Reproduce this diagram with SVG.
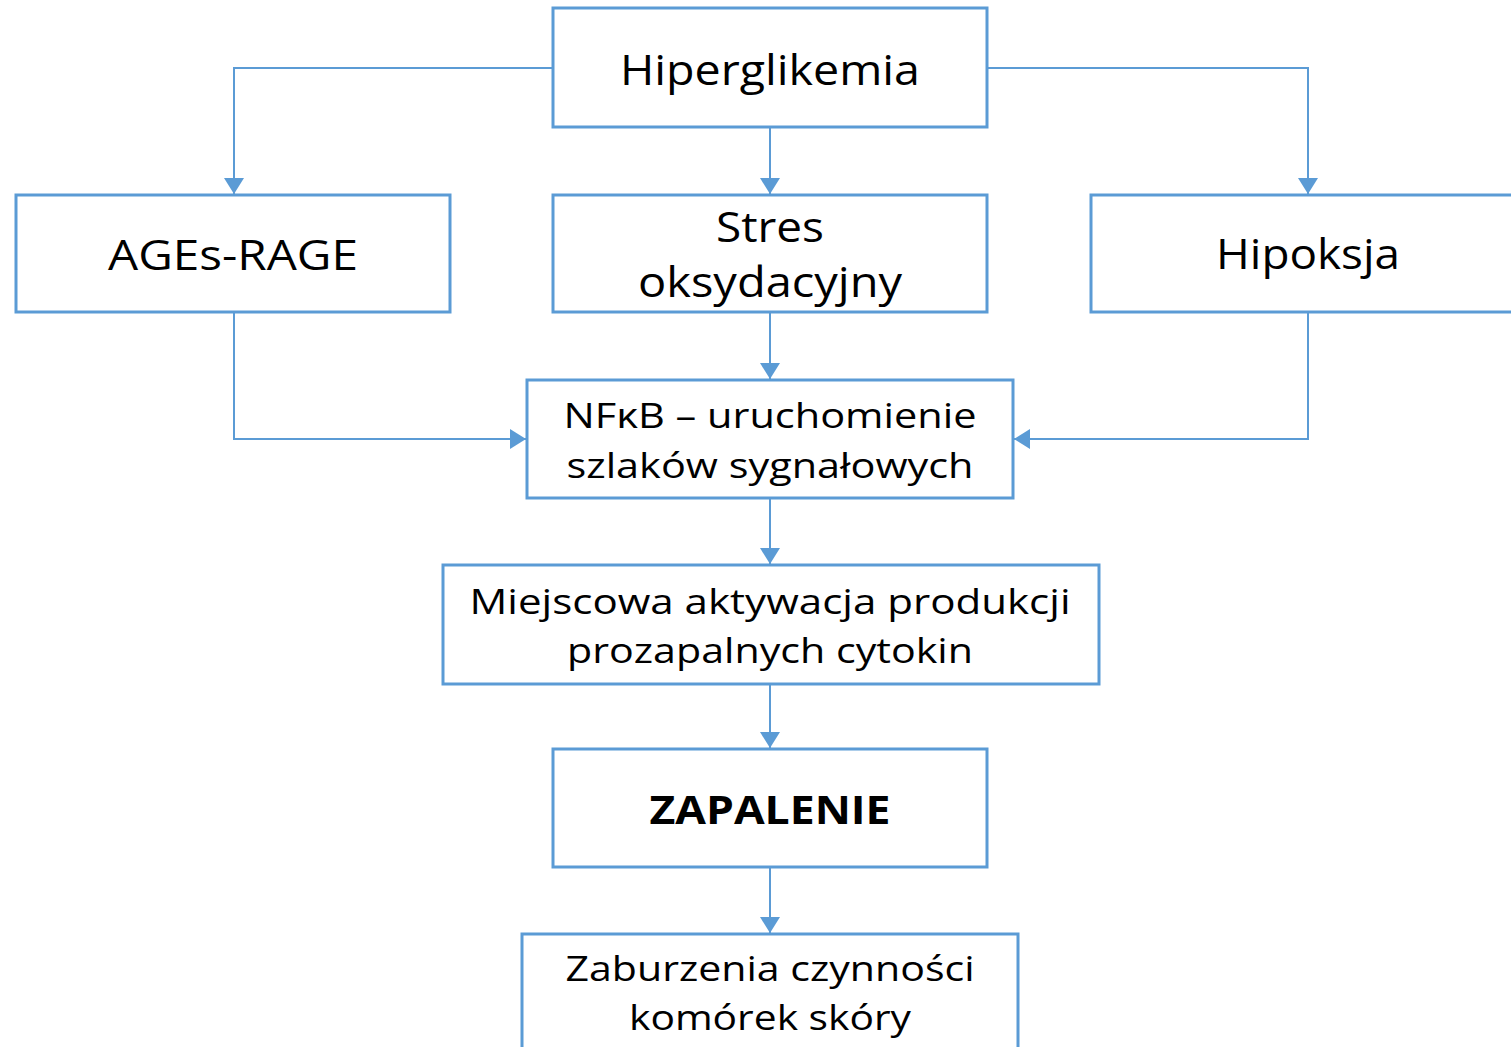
<svg xmlns="http://www.w3.org/2000/svg" width="1511" height="1047" viewBox="0 0 1511 1047">
<style>
.box{fill:#fff;stroke:#5B9BD5;stroke-width:3}
.c{fill:none;stroke:#5B9BD5;stroke-width:2}
text{font-family:"Open Sans","Noto Sans",sans-serif;fill:#000;text-anchor:middle}
.L{font-size:42px}
.S{font-size:35px}
.B{font-size:40px;font-weight:bold}
</style>
<defs>
<marker id="ah" markerWidth="18" markerHeight="20" refX="16" refY="10" orient="auto" markerUnits="userSpaceOnUse">
<path d="M0,0 L16,10 L0,20 Z" fill="#5B9BD5"/>
</marker>
</defs>
<rect width="1511" height="1047" fill="#fff"/>
<g id="connectors">
<path class="c" d="M553,68 H234 V194" marker-end="url(#ah)"/>
<path class="c" d="M770,127 V194" marker-end="url(#ah)"/>
<path class="c" d="M987,68 H1308 V194" marker-end="url(#ah)"/>
<path class="c" d="M234,312 V439 H526" marker-end="url(#ah)"/>
<path class="c" d="M770,312 V379" marker-end="url(#ah)"/>
<path class="c" d="M1308,312 V439 H1014" marker-end="url(#ah)"/>
<path class="c" d="M770,498 V564" marker-end="url(#ah)"/>
<path class="c" d="M770,684 V748" marker-end="url(#ah)"/>
<path class="c" d="M770,867 V933" marker-end="url(#ah)"/>
</g>
<g id="hiperglikemia">
<rect class="box" x="553" y="8" width="434" height="119"/>
<text class="L" x="770" y="85" textLength="300" lengthAdjust="spacingAndGlyphs">Hiperglikemia</text>
</g>
<g id="ages-rage">
<rect class="box" x="16" y="195" width="434" height="117"/>
<text class="L" x="233" y="270" textLength="250" lengthAdjust="spacingAndGlyphs">AGEs-RAGE</text>
</g>
<g id="stres">
<rect class="box" x="553" y="195" width="434" height="117"/>
<text class="L" x="770" y="242" textLength="108" lengthAdjust="spacingAndGlyphs">Stres</text>
<text class="L" x="770" y="297" textLength="264" lengthAdjust="spacingAndGlyphs">oksydacyjny</text>
</g>
<g id="hipoksja">
<rect class="box" x="1091" y="195" width="440" height="117"/>
<text class="L" x="1308" y="269" textLength="184" lengthAdjust="spacingAndGlyphs">Hipoksja</text>
</g>
<g id="nfkb">
<rect class="box" x="527" y="380" width="486" height="118"/>
<text class="S" x="770" y="428" textLength="413" lengthAdjust="spacingAndGlyphs">NFκB – uruchomienie</text>
<text class="S" x="770" y="478" textLength="407" lengthAdjust="spacingAndGlyphs">szlaków sygnałowych</text>
</g>
<g id="miejscowa">
<rect class="box" x="443" y="565" width="656" height="119"/>
<text class="S" x="770" y="614" textLength="601" lengthAdjust="spacingAndGlyphs">Miejscowa aktywacja produkcji</text>
<text class="S" x="770" y="663" textLength="406" lengthAdjust="spacingAndGlyphs">prozapalnych cytokin</text>
</g>
<g id="zapalenie">
<rect class="box" x="553" y="749" width="434" height="118"/>
<text class="B" x="770" y="824" textLength="241" lengthAdjust="spacingAndGlyphs">ZAPALENIE</text>
</g>
<g id="zaburzenia">
<rect class="box" x="522" y="934" width="496" height="130"/>
<text class="S" x="770" y="981" textLength="409" lengthAdjust="spacingAndGlyphs">Zaburzenia czynności</text>
<text class="S" x="770" y="1030" textLength="282" lengthAdjust="spacingAndGlyphs">komórek skóry</text>
</g>
</svg>
